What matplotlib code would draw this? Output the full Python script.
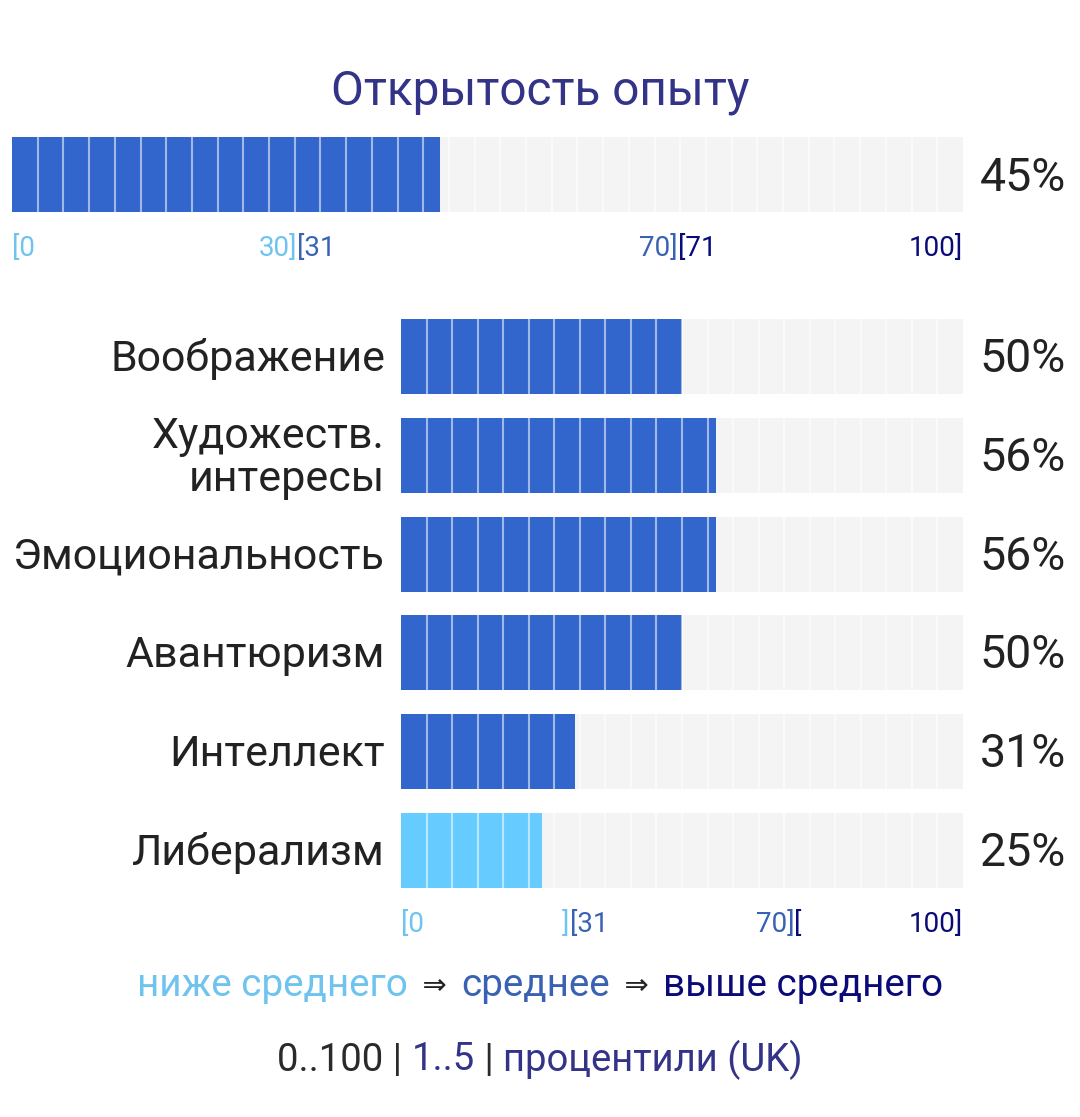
import matplotlib
matplotlib.use("Agg")
import matplotlib.pyplot as plt

# ---- data ----
TITLE = "Открытость опыту"
TOTAL_VALUE = 45
FACETS = ["Воображение", "Художеств.\nинтересы", "Эмоциональность",
          "Авантюризм", "Интеллект", "Либерализм"]
FACET_VALUES = [50, 56, 56, 50, 31, 25]
LOW_CUT, HIGH_CUT = 30, 70
TOP_TICKS = [("[0", 0, "left", "low"), ("30]", 30, "right", "low"),
             ("[31", 30, "left", "mid"), ("70]", 70, "right", "mid"),
             ("[71", 70, "left", "high"), ("100]", 100, "right", "high")]
BOTTOM_TICKS = [("[0", 0, "left", "low"), ("]", 30, "right", "low"),
                ("[31", 30, "left", "mid"), ("70]", 70, "right", "mid"),
                ("[", 70, "left", "high"), ("100]", 100, "right", "high")]
LEGEND = [("ниже среднего", "low"), ("  ⇒  ", "arrow"), ("среднее", "mid"),
          ("  ⇒  ", "arrow"), ("выше среднего", "high")]
FOOTER = [("0..100 | ", "text"), ("1..5", "title"), (" | ", "text"),
          ("процентили (UK)", "title")]

BAR_DARK = "#3366CC"
BAR_LIGHT = "#66CCFF"
BG = "#F4F4F4"
COLORS = {"low": "#6EC4EE", "mid": "#3A62B4", "high": "#0A0A78",
          "arrow": "#222222", "text": "#2A2A2A", "title": "#333388"}

plt.rcParams["font.family"] = ["Roboto", "DejaVu Sans"]

W, H = 1080, 1117
fig = plt.figure(figsize=(W / 100, H / 100), dpi=100)


def fx(x):
    return x / W


def fy(y):
    return 1 - y / H


def bar_color(v):
    return BAR_LIGHT if v <= LOW_CUT else BAR_DARK


def draw_segments(ax, ys, height, nseg):
    step = 100 / nseg
    for y in ys:
        for k in range(1, nseg):
            ax.plot([k * step, k * step], [y - height / 2, y + height / 2],
                    color="white", alpha=0.55, lw=1.5, solid_capstyle="butt",
                    zorder=3)


TICK_FS = 20
PCT_FS = 33.5
LABEL_FS = 31

# ---- top bar ----
ax_top = fig.add_axes([fx(12), fy(212), fx(951), 75 / H])
ax_top.barh([0], [100], height=1, color=BG, zorder=1)
ax_top.barh([0], [TOTAL_VALUE], height=1, color=bar_color(TOTAL_VALUE), zorder=2)
draw_segments(ax_top, [0], 1, 37)
ax_top.set_xlim(0, 100)
ax_top.set_ylim(-0.5, 0.5)
ax_top.axis("off")
for label, pos, ha, cls in TOP_TICKS:
    ax_top.text(pos, -0.5 - 36 / 75, label, ha=ha, va="center",
                fontsize=TICK_FS, color=COLORS[cls])
fig.text(fx(1066), fy(178), f"{TOTAL_VALUE}%", ha="right", va="center",
         fontsize=PCT_FS, color="#222222")

fig.text(0.5, fy(92), TITLE, ha="center", va="center", fontsize=34.4,
         color=COLORS["title"])

# ---- facet bars ----
row_px = 98.8
bar_px = 75
n = len(FACETS)
span = (n - 1) * row_px + bar_px
ax = fig.add_axes([fx(401), fy(319 + span), fx(562), span / H])
ys = list(range(n))
hgt = bar_px / row_px
ax.barh(ys, [100] * n, height=hgt, color=BG, zorder=1)
ax.barh(ys, FACET_VALUES, height=hgt,
        color=[bar_color(v) for v in FACET_VALUES], zorder=2)
draw_segments(ax, ys, hgt, 22)
ax.set_xlim(0, 100)
ax.set_ylim(n - 1 + hgt / 2, -hgt / 2)
ax.axis("off")
dy = 2.5 / row_px
for y, name, v in zip(ys, FACETS, FACET_VALUES):
    ax.text(-16 / 562 * 100, y + dy, name, ha="right", va="center",
            fontsize=LABEL_FS, color="#222222", linespacing=1.08)
    ax.text(100 + 103 / 562 * 100, y + dy, f"{v}%", ha="right", va="center",
            fontsize=PCT_FS, color="#222222")
for label, pos, ha, cls in BOTTOM_TICKS:
    ax.text(pos, n - 1 + hgt / 2 + 36 / row_px, label, ha=ha, va="center",
            fontsize=TICK_FS, color=COLORS[cls])


def centered_line(parts, y_px, size):
    texts = []
    for s, cls in parts:
        fsz = size * 0.75 if cls == "arrow" else size
        texts.append(fig.text(0, fy(y_px), s, ha="left", va="center",
                              fontsize=fsz, color=COLORS[cls]))
    fig.canvas.draw()
    r = fig.canvas.get_renderer()
    widths = [t.get_window_extent(r).width for t in texts]
    x = (W - sum(widths)) / 2
    for t, w in zip(texts, widths):
        t.set_x(fx(x))
        x += w


centered_line(LEGEND, 986, 27.8)
centered_line(FOOTER, 1060, 27.5)

fig.savefig("out.png", dpi=100)
